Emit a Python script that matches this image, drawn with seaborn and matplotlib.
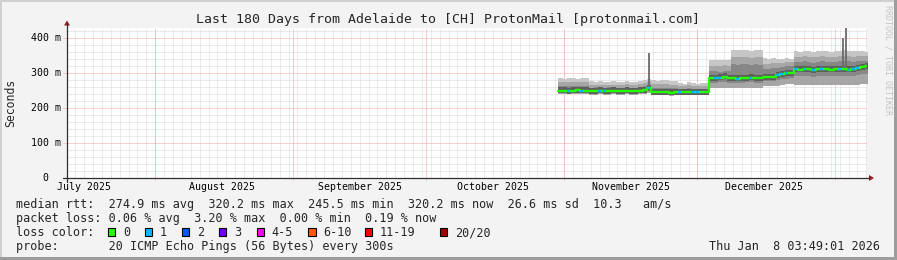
import numpy as np
import pandas as pd
import matplotlib
matplotlib.use("Agg")
import matplotlib.pyplot as plt
import seaborn as sns
from matplotlib.patches import Rectangle, Polygon
from matplotlib.lines import Line2D

# ---------------- data ----------------
title = "Last 180 Days from Adelaide to [CH] ProtonMail [protonmail.com]"
month_labels = ["July 2025", "August 2025", "September 2025",
                "October 2025", "November 2025", "December 2025"]
month_label_days = [3.84, 34.84, 65.84, 95.84, 126.84, 156.84]
month_start_days = [19.84, 50.84, 80.84, 111.84, 141.84, 172.84]
y_ticks = [0, 100, 200, 300, 400]
y_tick_labels = ["0", "100 m", "200 m", "300 m", "400 m"]

sample_start = 110.5          # day offset of first sample (1 sample per day)
median = [250, 250, 249, 250, 251, 250, 250,
          249, 249, 250, 249, 249, 250, 249, 249, 250, 249, 249, 250, 252, 256,
          245, 245, 246, 245, 244, 245,
          246, 245, 246, 245, 246, 245, 246,
          285, 286, 287, 290, 286,
          285, 284, 285, 286, 287, 286, 285,
          288, 288, 289, 293, 297, 299, 300,
          311, 310, 312, 311, 309, 311, 312, 311, 310, 311, 312, 311, 310, 312, 314, 318, 320]
smoke_lo = [240, 240, 241, 240, 240, 241, 240,
            238, 238, 239, 238, 238, 239, 238, 238, 239, 238, 238, 239, 240, 242,
            236, 236, 237, 236, 235, 236,
            237, 236, 237, 236, 237, 236, 237,
            256, 257, 256, 258, 256,
            257, 256, 257, 258, 257, 256, 257,
            262, 262, 263, 264, 266, 268, 270,
            266, 266, 267, 266, 265, 266, 267, 266, 265, 266, 267, 266, 265, 266, 267, 268, 269]
smoke_q1 = [245, 245, 245, 246, 245, 245, 245,
            244, 244, 244, 244, 244, 244, 244, 244, 244, 244, 244, 245, 246, 248,
            240, 240, 241, 240, 240, 240,
            241, 240, 241, 240, 241, 240, 241,
            272, 272, 273, 274, 272,
            272, 271, 272, 273, 273, 272, 272,
            276, 276, 277, 279, 282, 284, 285,
            292, 291, 292, 292, 290, 292, 292, 292, 291, 292, 292, 292, 291, 292, 294, 296, 298]
smoke_q3 = [262, 264, 263, 262, 264, 262, 263,
            258, 259, 257, 258, 259, 258, 257, 258, 259, 258, 257, 259, 262, 266,
            258, 257, 258, 257, 256, 257,
            255, 254, 256, 255, 254, 255, 255,
            305, 306, 304, 307, 305,
            325, 324, 326, 325, 323, 325, 324,
            312, 312, 313, 315, 318, 320, 320,
            332, 331, 333, 332, 330, 332, 333, 332, 331, 332, 334, 335, 333, 332, 333, 334, 335]
smoke_hi = [286, 284, 287, 285, 283, 286, 285,
            276, 274, 277, 275, 273, 276, 275, 274, 277, 275, 274, 276, 280, 284,
            280, 278, 281, 279, 277, 276,
            272, 270, 273, 271, 270, 272, 271,
            337, 336, 338, 337, 336,
            366, 365, 367, 366, 364, 366, 365,
            342, 340, 343, 341, 340, 342, 341,
            362, 361, 363, 362, 360, 362, 363, 362, 361, 362, 364, 365, 363, 362, 363, 362, 361]
loss = [0, 0, 1, 0, 0, 1, 0,
        0, 0, 1, 1, 0, 0, 0, 0, 0, 0, 0, 0, 0, 1,
        0, 0, 0, 0, 0, 0,
        1, 0, 0, 1, 1, 0, 0,
        0, 1, 1, 0, 0,
        0, 1, 0, 0, 1, 0, 0,
        0, 0, 0, 1, 1, 1, 0,
        1, 0, 1, 0, 1, 0, 1, 0, 0, 0, 1, 0, 1, 1, 1, 0, 0]
spike_days = [131.0, 174.6, 175.3]
spike_base = [256, 311, 311]
spike_top = [357, 400, 428]

legend_loss_labels = ["0", "1", "2", "3", "4-5", "6-10", "11-19", "20/20"]
legend_loss_colors = ["#26ff00", "#00b8ff", "#0059ff", "#7000ff",
                      "#ff00f0", "#ff5a00", "#ff0000", "#a00000"]
legend_box_x = [108, 145, 182, 219, 256.7, 308.3, 365, 440]

line_rtt = "median rtt:  274.9 ms avg  320.2 ms max  245.5 ms min  320.2 ms now  26.6 ms sd  10.3   am/s"
line_loss = "packet loss: 0.06 % avg  3.20 % max  0.00 % min  0.19 % now"
line_color = "loss color:"
line_probe = "probe:       20 ICMP Echo Pings (56 Bytes) every 300s"
date_text = "Thu Jan  8 03:49:01 2026"
watermark = "RRDTOOL / TOBI OETIKER"

# ---------------- style ----------------
sns.set_style("white")
plt.rcParams["font.family"] = ["DejaVu Sans Mono", "DejaVu Sans"]

W, H = 897, 260
fig = plt.figure(figsize=(W / 100, H / 100), dpi=100, facecolor="#f3f3f3")


def fx(x):
    return x / W


def fy(y):
    return 1 - y / H


# plot area: x 67..867, y 178 (0) .. 27.5 (430)
X0, X1, Y0 = 67, 867, 178
YMAX = 430
PX_PER_MS = 0.35
ax = fig.add_axes([fx(X0), fy(Y0), (X1 - X0) / W, YMAX * PX_PER_MS / H])
ax.set_facecolor("white")
ax.set_xlim(0, 180)
ax.set_ylim(0, YMAX)
for s in ax.spines.values():
    s.set_visible(False)
ax.set_xticks([])
ax.set_yticks([])

# grid
dash = (0, (1, 1))
for d in np.arange(1.84, 180, 2.0):
    ax.axvline(d, color="#d6d6d6", lw=0.72, ls=dash, zorder=0)
for v in range(20, YMAX, 20):
    if v % 100:
        ax.axhline(v, color="#d6d6d6", lw=0.72, ls=dash, zorder=0)
for d in month_start_days:
    ax.plot([d, d], [-6, YMAX], color="#f4a0a0", lw=0.72, ls=dash, zorder=1, clip_on=False)
for v in y_ticks[1:]:
    ax.plot([-0.8, 180], [v, v], color="#f4a0a0", lw=0.72, ls=dash, zorder=1, clip_on=False)

# data
n = len(median)
days = sample_start + np.arange(n)
edges = np.append(days, days[-1] + 1)


def ext(a):
    a = np.asarray(a, float)
    return np.append(a, a[-1])


lo, q1, q3, hi, med = (ext(smoke_lo), ext(smoke_q1), ext(smoke_q3),
                       ext(smoke_hi), ext(median))
upper_mid = (q3 + hi) / 2
ax.fill_between(edges, lo, hi, step="post", color="#c6c6c6", lw=0, zorder=2)
ax.fill_between(edges, lo, upper_mid, step="post", color="#a6a6a6", lw=0, zorder=2.1)
ax.fill_between(edges, q1, q3, step="post", color="#878787", lw=0, zorder=2.2)
ax.fill_between(edges, np.maximum(lo, med - 8), med + 9, step="post", color="#5e5e5e",
                lw=0, zorder=2.3)

# spikes
ax.vlines(spike_days, spike_base, spike_top, color="#6a6a6a", lw=1.3, zorder=3)

df = pd.DataFrame({"day": edges, "median": med})
sns.lineplot(data=df, x="day", y="median", ax=ax, color="#26ff00", lw=1.7,
             drawstyle="steps-post", estimator=None, sort=False, zorder=5, legend=False)
lossdf = pd.DataFrame({"day": days, "median": median, "loss": loss})
lossdf = lossdf[lossdf["loss"] > 0]
ax.hlines(lossdf["median"], lossdf["day"], lossdf["day"] + 0.7, color="#00b8ff", lw=1.7, zorder=6)
ax.set_xlabel("")
ax.set_ylabel("")

# axes lines + arrows (figure pixel coordinates)
axis_col = "#303030"
arrow_col = "#9b1b1b"
fig.add_artist(Line2D([fx(63), fx(869)], [fy(178), fy(178)], color=axis_col, lw=0.9))
fig.add_artist(Line2D([fx(67), fx(67)], [fy(182), fy(23)], color=axis_col, lw=0.9))
fig.add_artist(Polygon([[fx(64), fy(25.5)], [fx(70), fy(25.5)], [fx(67), fy(20.5)]],
                       closed=True, color=arrow_col, lw=0))
fig.add_artist(Polygon([[fx(869), fy(175)], [fx(869), fy(181)], [fx(874), fy(178)]],
                       closed=True, color=arrow_col, lw=0))

# tick labels
for v, lab in zip(y_ticks, y_tick_labels):
    ypx = Y0 - v * PX_PER_MS
    xr = 48 if lab == "0" else 60.5
    fig.text(fx(xr), fy(ypx), lab, ha="right", va="center", fontsize=7.1, color="#000000")
for d, lab in zip(month_label_days, month_labels):
    xpx = X0 + d * (X1 - X0) / 180
    fig.text(fx(xpx), fy(187.5), lab, ha="center", va="center", fontsize=7.1, color="#000000")

fig.text(fx(11), fy(103), "Seconds", rotation=90, ha="center", va="center", fontsize=8.3)
fig.text(fx(447.5), fy(19), title, ha="center", va="center", fontsize=9.55)
fig.text(fx(888), fy(5), watermark, rotation=270, ha="center", va="top", fontsize=6,
         color="#c4c4c4")

# legend lines
LFS = 8.45
fig.text(fx(16), fy(204.5), line_rtt, ha="left", va="center", fontsize=LFS)
fig.text(fx(16), fy(218.5), line_loss, ha="left", va="center", fontsize=LFS)
fig.text(fx(16), fy(232.5), line_color, ha="left", va="center", fontsize=LFS)
fig.text(fx(16), fy(246.5), line_probe, ha="left", va="center", fontsize=LFS)
fig.text(fx(880), fy(246.5), date_text, ha="right", va="center", fontsize=LFS)
for bx, lab, col in zip(legend_box_x, legend_loss_labels, legend_loss_colors):
    fig.add_artist(Rectangle((fx(bx), fy(235.8)), 7.3 / W, 7.5 / H, facecolor=col,
                             edgecolor="black", lw=0.8))
    fig.text(fx(bx + 15), fy(232.5), lab, ha="left", va="center", fontsize=LFS)

# frame bevel
fig.add_artist(Rectangle((0, fy(2)), 1, 2 / H, facecolor="#d0d0d0", lw=0))
fig.add_artist(Rectangle((0, 0), 2 / W, 1, facecolor="#d0d0d0", lw=0))
fig.add_artist(Rectangle((0, 0), 1, 3 / H, facecolor="#9d9d9d", lw=0))
fig.add_artist(Rectangle((fx(894), 0), 3 / W, 1, facecolor="#9d9d9d", lw=0))

fig.savefig("out.png", dpi=100, facecolor=fig.get_facecolor())
